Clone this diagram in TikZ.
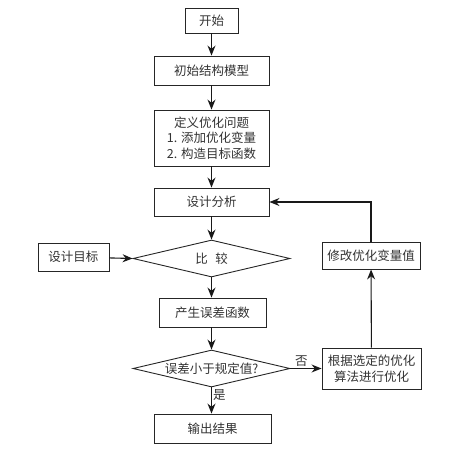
\documentclass[tikz,border=0pt]{standalone}
\usepackage{fontspec}
\setmainfont{Noto Sans CJK SC}
\usetikzlibrary{shapes.geometric,arrows.meta}
\begin{document}
\begin{tikzpicture}[x=1pt,y=1pt,
  font=\fontsize{12.5pt}{15.5pt}\selectfont,
  box/.style={draw=black!85,line width=0.9pt,inner sep=1pt,align=center,text=black!80},
  dia/.style={draw=black!85,line width=0.9pt,diamond,inner sep=0pt,minimum width=157pt,minimum height=37pt,aspect=4.24,text=black!80},
  arr/.style={draw=black!90,line width=1.1pt,-{Stealth[length=10pt,width=8pt]}},
  lbl/.style={text=black!80,inner sep=1pt}]
\useasboundingbox (0,0) rectangle (454,-456);
\node[box,minimum width=53pt,minimum height=25pt] (start) at (211.5,-20.5) {开始};
\node[box,minimum width=115pt,minimum height=29pt] (init) at (211.5,-70.5) {初始结构模型};
\node[box,minimum width=115pt,minimum height=56pt] (def) at (211.5,-138) {定义优化问题\\1. 添加优化变量\\2. 构造目标函数};
\node[box,minimum width=115pt,minimum height=28pt] (ana) at (211.5,-202) {设计分析};
\node[dia] (cmp) at (211.5,-258.5) {比\hspace{0.6em}较};
\node[box,minimum width=71pt,minimum height=28pt] (goal) at (73.5,-257) {设计目标};
\node[box,minimum width=98pt,minimum height=27pt] (mod) at (371,-255.5) {修改优化变量值};
\node[box,minimum width=107pt,minimum height=29pt] (err) at (212.5,-312.5) {产生误差函数};
\node[dia] (chk) at (211.5,-368.5) {误差小于规定值?};
\node[box,minimum width=99pt,minimum height=41pt] (opt) at (371.5,-368.5) {根据选定的优化\\算法进行优化};
\node[box,minimum width=117pt,minimum height=29pt] (out) at (212.5,-428.5) {输出结果};
\draw[arr] (start) -- (init);
\draw[arr] (init) -- (def);
\draw[arr] (def) -- (ana);
\draw[arr] (ana) -- (cmp);
\draw[arr] (goal) -- (cmp.west);
\draw[arr] (cmp) -- (err.north -| cmp);
\draw[arr] (err.south -| chk) -- (chk);
\draw[arr] (chk.east) -- node[lbl,above,pos=0.35] {否} (opt.west);
\draw[arr] (chk.south) -- node[lbl,right,pos=0.3] {是} (out.north -| chk);
\draw[arr] (opt) -- (mod);
\draw[arr] (mod.north) |- (ana.east);
\end{tikzpicture}
\end{document}
